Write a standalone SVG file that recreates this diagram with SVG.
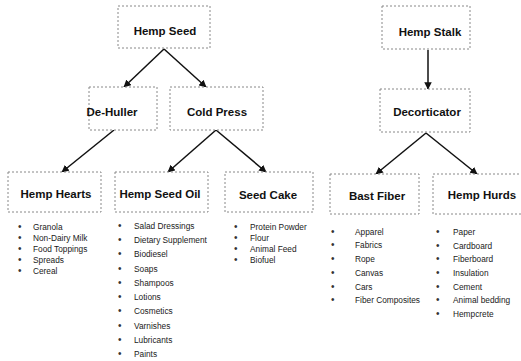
<svg xmlns="http://www.w3.org/2000/svg" width="521" height="361" viewBox="0 0 521 361">
<defs>
<marker id="arr" viewBox="0 0 10 10" refX="9" refY="5" markerWidth="5" markerHeight="5" orient="auto">
<path d="M0,0 L10,5 L0,10 z" fill="#111"/>
</marker>
<style>
.box{fill:#fff;stroke:#888;stroke-width:1;stroke-dasharray:2,2}
.lbl{font-family:"Liberation Sans",Arial,sans-serif;font-size:11.5px;font-weight:bold;fill:#111;text-anchor:middle}
.it{font-family:"Liberation Sans",Arial,sans-serif;font-size:8.3px;fill:#1a1a1a}
.bl{font-family:"Liberation Sans",Arial,sans-serif;font-size:10px;fill:#333}
.ln{stroke:#111;stroke-width:1.5;fill:none;marker-end:url(#arr)}
</style>
</defs>
<rect width="521" height="361" fill="#fff"/>
<g id="connectors">
<line class="ln" x1="164" y1="49" x2="124" y2="87"/>
<line class="ln" x1="164" y1="49" x2="206" y2="87"/>
<line class="ln" x1="428" y1="50" x2="428" y2="89"/>
<line class="ln" x1="114" y1="130" x2="62" y2="172"/>
<line class="ln" x1="216" y1="130" x2="168" y2="172"/>
<line class="ln" x1="216" y1="130" x2="266" y2="172"/>
<line class="ln" x1="426" y1="133" x2="376" y2="174"/>
<line class="ln" x1="426" y1="133" x2="477" y2="174"/>
</g>
<g id="hemp-seed"><rect class="box" x="118" y="6" width="92" height="42"/><text class="lbl" x="165" y="35">Hemp Seed</text></g>
<g id="hemp-stalk"><rect class="box" x="382" y="6" width="88" height="43"/><text class="lbl" x="430" y="36">Hemp Stalk</text></g>
<g id="de-huller"><rect class="box" x="89" y="87" width="68" height="43"/><text class="lbl" x="112" y="116">De-Huller</text></g>
<g id="cold-press"><rect class="box" x="170" y="87" width="93" height="43"/><text class="lbl" x="217" y="116">Cold Press</text></g>
<g id="decorticator"><rect class="box" x="380" y="89" width="90" height="43"/><text class="lbl" x="427" y="116">Decorticator</text></g>
<g id="hemp-hearts"><rect class="box" x="8" y="172" width="93" height="40"/><text class="lbl" x="56" y="198">Hemp Hearts</text>
<g>
<text class="bl" x="18" y="230">•</text><text class="it" x="33" y="230">Granola</text>
<text class="bl" x="18" y="241">•</text><text class="it" x="33" y="241">Non-Dairy Milk</text>
<text class="bl" x="18" y="252">•</text><text class="it" x="33" y="252">Food Toppings</text>
<text class="bl" x="18" y="263">•</text><text class="it" x="33" y="263">Spreads</text>
<text class="bl" x="18" y="274">•</text><text class="it" x="33" y="274">Cereal</text>
</g></g>
<g id="hemp-seed-oil"><rect class="box" x="115" y="172" width="93" height="40"/><text class="lbl" x="160" y="198">Hemp Seed Oil</text>
<g>
<text class="bl" x="118" y="229">•</text><text class="it" x="134" y="229">Salad Dressings</text>
<text class="bl" x="118" y="243">•</text><text class="it" x="134" y="243">Dietary Supplement</text>
<text class="bl" x="118" y="257">•</text><text class="it" x="134" y="257">Biodiesel</text>
<text class="bl" x="118" y="272">•</text><text class="it" x="134" y="272">Soaps</text>
<text class="bl" x="118" y="286">•</text><text class="it" x="134" y="286">Shampoos</text>
<text class="bl" x="118" y="300">•</text><text class="it" x="134" y="300">Lotions</text>
<text class="bl" x="118" y="314">•</text><text class="it" x="134" y="314">Cosmetics</text>
<text class="bl" x="118" y="329">•</text><text class="it" x="134" y="329">Varnishes</text>
<text class="bl" x="118" y="343">•</text><text class="it" x="134" y="343">Lubricants</text>
<text class="bl" x="118" y="357">•</text><text class="it" x="134" y="357">Paints</text>
</g></g>
<g id="seed-cake"><rect class="box" x="225" y="172" width="88" height="40"/><text class="lbl" x="268" y="199">Seed Cake</text>
<g>
<text class="bl" x="234" y="230">•</text><text class="it" x="250" y="230">Protein Powder</text>
<text class="bl" x="234" y="241">•</text><text class="it" x="250" y="241">Flour</text>
<text class="bl" x="234" y="252">•</text><text class="it" x="250" y="252">Animal Feed</text>
<text class="bl" x="234" y="263">•</text><text class="it" x="250" y="263">Biofuel</text>
</g></g>
<g id="bast-fiber"><rect class="box" x="330" y="174" width="89" height="40"/><text class="lbl" x="377" y="200">Bast Fiber</text>
<g>
<text class="bl" x="331" y="235">•</text><text class="it" x="355" y="235">Apparel</text>
<text class="bl" x="331" y="248">•</text><text class="it" x="355" y="248">Fabrics</text>
<text class="bl" x="331" y="262">•</text><text class="it" x="355" y="262">Rope</text>
<text class="bl" x="331" y="276">•</text><text class="it" x="355" y="276">Canvas</text>
<text class="bl" x="331" y="290">•</text><text class="it" x="355" y="290">Cars</text>
<text class="bl" x="331" y="303">•</text><text class="it" x="355" y="303">Fiber Composites</text>
</g></g>
<g id="hemp-hurds"><rect class="box" x="433" y="174" width="90" height="40"/><text class="lbl" x="482" y="199">Hemp Hurds</text>
<g>
<text class="bl" x="436" y="235">•</text><text class="it" x="453" y="235">Paper</text>
<text class="bl" x="436" y="249">•</text><text class="it" x="453" y="249">Cardboard</text>
<text class="bl" x="436" y="262">•</text><text class="it" x="453" y="262">Fiberboard</text>
<text class="bl" x="436" y="276">•</text><text class="it" x="453" y="276">Insulation</text>
<text class="bl" x="436" y="290">•</text><text class="it" x="453" y="290">Cement</text>
<text class="bl" x="436" y="303">•</text><text class="it" x="453" y="303">Animal bedding</text>
<text class="bl" x="436" y="317">•</text><text class="it" x="453" y="317">Hempcrete</text>
</g></g>
</svg>
